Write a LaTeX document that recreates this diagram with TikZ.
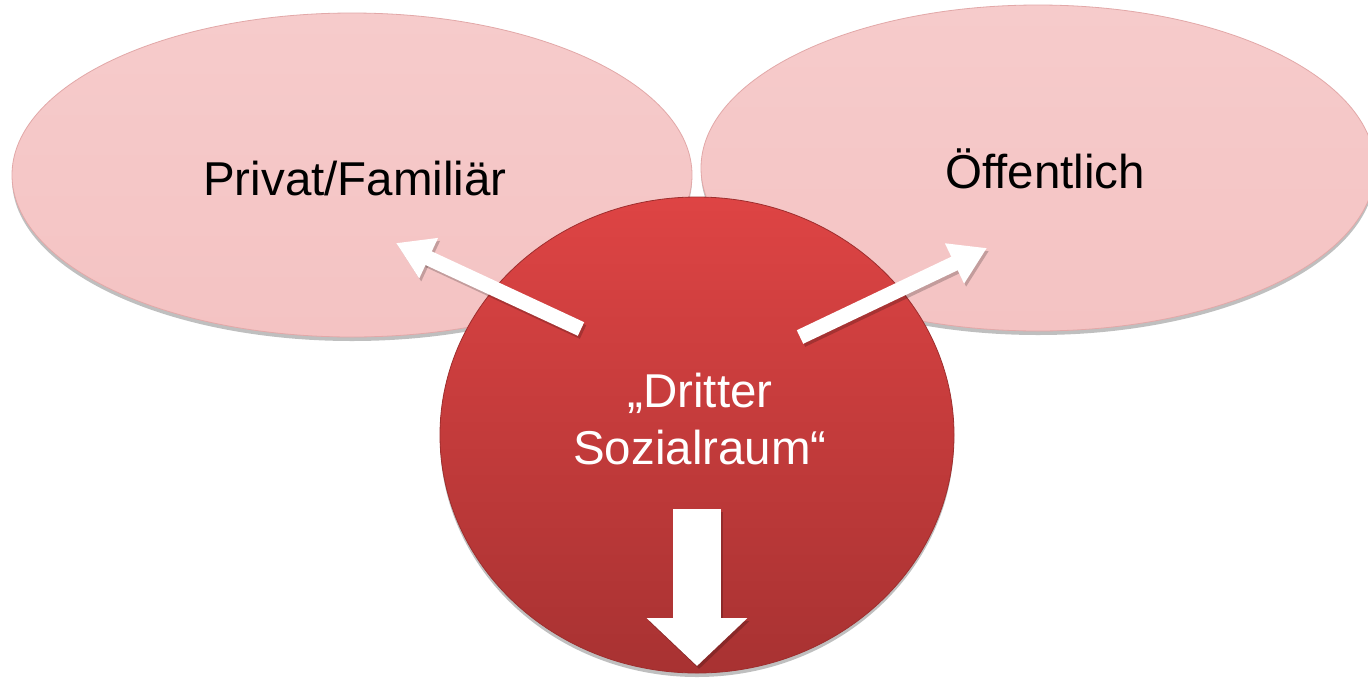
\documentclass[tikz,border=0pt]{standalone}
\usepackage{fontspec}
\setmainfont{Liberation Sans}
\usetikzlibrary{shapes.geometric,arrows.meta,shadows}
\definecolor{pinkfill}{HTML}{F4C3C3}
\definecolor{pinktop}{HTML}{F6CBCB}
\definecolor{pinkedge}{HTML}{E2A8A8}
\definecolor{redtop}{HTML}{DE4444}
\definecolor{redbot}{HTML}{A83232}
\definecolor{rededge}{HTML}{9E2E2E}
\tikzset{
  sphere/.style={ellipse, inner sep=0pt, draw=pinkedge, line width=0.8pt,
    top color=pinktop, bottom color=pinkfill,
    drop shadow={shadow xshift=0pt, shadow yshift=-4pt, opacity=0.25, fill=black}},
  core/.style={ellipse, inner sep=0pt, draw=rededge, line width=0.8pt,
    top color=redtop, bottom color=redbot,
    drop shadow={shadow xshift=0pt, shadow yshift=-4pt, opacity=0.25, fill=black}},
  label/.style={font=\fontsize{47.5}{57}\selectfont, align=center, inner sep=0pt},
  whitearrow/.style={draw=white, line width=15pt,
    -{Triangle[length=36pt,width=42pt,fill=white]}},
  arrowshadow/.style={draw=black, opacity=0.2, line width=15pt,
    -{Triangle[length=36pt,width=42pt]}},
  downarrow/.style={draw=white, line width=48pt,
    -{Triangle[length=48pt,width=98pt,fill=white]}},
}
\begin{document}
\begin{tikzpicture}[x=1pt,y=-1pt]
\useasboundingbox (0,0) rectangle (1368,678);
\clip (0,0) rectangle (1368,678);
\fill[white] (0,0) rectangle (1368,678);
% spheres
\node[sphere, minimum width=680pt, minimum height=324pt] (priv) at (352,175) {};
\node[sphere, minimum width=674pt, minimum height=326pt] (pub) at (1038,168) {};
\node[label] (privtext) at (355,179) {Privat/Familiär};
\node[label] (pubtext) at (1045,169) {Öffentlich};
\node[core, minimum width=514pt, minimum height=476pt] (third) at (697,435) {};
\node[label, text=white] (thirdtext) at (700,419) {„Dritter\\Sozialraum“};
% arrow coordinates
\coordinate (lt) at (581,329);
\coordinate (lh) at (396,243);
\coordinate (rt) at (800,337);
\coordinate (rh) at (987,248);
\coordinate (dt) at (697,509);
\coordinate (dh) at (697,666);
% shadows
\draw[arrowshadow] ([shift={(2,3)}]lt) -- ([shift={(2,3)}]lh);
\draw[arrowshadow] ([shift={(2,3)}]rt) -- ([shift={(2,3)}]rh);
\draw[draw=black, opacity=0.2, line width=48pt, -{Triangle[length=48pt,width=98pt]}]
  ([shift={(2,3)}]dt) -- ([shift={(2,3)}]dh);
% arrows
\draw[whitearrow] (lt) -- (lh);
\draw[whitearrow] (rt) -- (rh);
\draw[downarrow] (dt) -- (dh);
\end{tikzpicture}
\end{document}
